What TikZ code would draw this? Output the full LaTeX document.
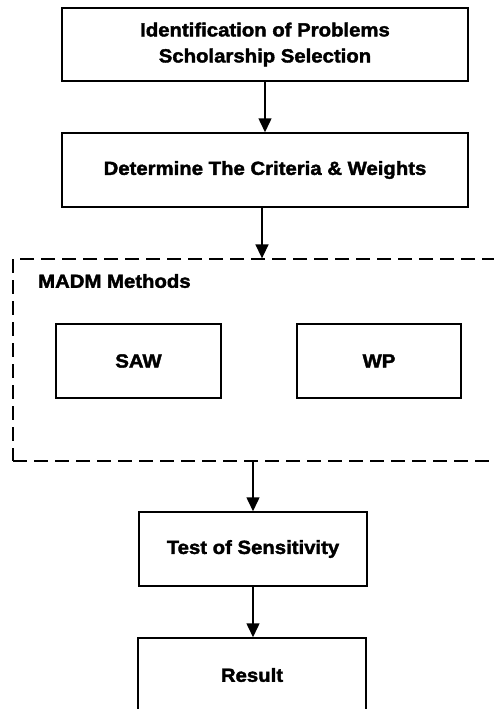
\documentclass[tikz,border=0pt]{standalone}
\usepackage{fontspec}
\newfontfamily\heavy{Liberation Sans}[UprightFont=* Bold,FakeBold=2,FakeStretch=1.07]
\usetikzlibrary{arrows.meta}

\begin{document}
\begin{tikzpicture}[x=1pt,y=-1pt,
    box/.style={draw,line width=1.5pt,inner sep=0pt,align=center,
      font=\heavy\fontsize{19}{26}\selectfont},
    flow/.style={-{Triangle[width=13pt,length=14pt]},line width=1.5pt}]
        \useasboundingbox (0,0) rectangle (494,709);
        \node [box,minimum width=406pt,minimum height=73pt] (ident) at (265,44.5)
          {Identification of Problems\\Scholarship Selection};
        \node [box,minimum width=406pt,minimum height=74pt] (criteria) at (265,170)
          {Determine The Criteria \& Weights};
        \node [draw,line width=1.3pt,dash pattern=on 14pt off 7pt,inner sep=0pt,
          minimum width=487pt,minimum height=202pt] (madm) at (256.5,360) {};
        \node [anchor=west,inner sep=0pt,font=\heavy\fontsize{19}{26}\selectfont]
          (madmlabel) at (38,281) {MADM Methods};
        \node [box,minimum width=165pt,minimum height=74pt] (saw) at (138.5,361) {SAW};
        \node [box,minimum width=164pt,minimum height=74pt] (wp) at (379,361) {WP};
        \node [box,minimum width=228pt,minimum height=74pt] (sens) at (253,549)
          {Test of Sensitivity};
        \node [box,minimum width=228pt,minimum height=74pt] (result) at (252,675)
          {Result};
        \coordinate (c2) at ([xshift=-3pt]criteria.south);
        \draw [flow] (ident) -- (criteria);
        \draw [flow] (c2) -- (c2 |- madm.north);
        \draw [flow] (madm.south -| sens.north) -- (sens.north);
        \draw [flow] (sens.south) -- (sens.south |- result.north);
\end{tikzpicture}
\end{document}
